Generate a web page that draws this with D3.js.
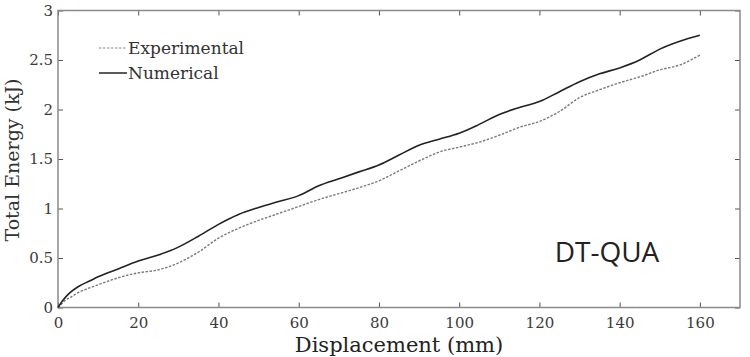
<!DOCTYPE html>
<html>
<head>
<meta charset="utf-8">
<script src="https://cdn.jsdelivr.net/npm/d3@7"></script>
<style>
  body { margin: 0; background: #fff; }
  svg { display: block; }
</style>
</head>
<body>
<div id="chart"></div>
<script>
// 변위 (mm)
const displacement = [0, 1, 2, 3, 5, 8, 10, 15, 20, 25, 30, 35, 40, 45, 50, 55, 60, 65, 70, 75, 80,
  85, 90, 95, 100, 105, 110, 115, 120, 125, 130, 135, 140, 145, 150, 155, 160];
// 수치해석 결과 (kJ)
const numerical = [0, 0.06, 0.11, 0.15, 0.21, 0.27, 0.31, 0.39, 0.47, 0.53, 0.61, 0.72, 0.84, 0.94, 1.01,
  1.07, 1.13, 1.23, 1.30, 1.37, 1.44, 1.54, 1.64, 1.70, 1.76, 1.85, 1.95, 2.02, 2.08, 2.18, 2.28,
  2.36, 2.42, 2.50, 2.61, 2.69, 2.75];
// 실험 결과 (kJ)
const experimental = [0, 0.04, 0.08, 0.10, 0.15, 0.20, 0.23, 0.30, 0.35, 0.38, 0.45, 0.56, 0.70, 0.80, 0.88,
  0.95, 1.02, 1.09, 1.15, 1.21, 1.28, 1.38, 1.48, 1.57, 1.62, 1.67, 1.74, 1.82, 1.88, 1.98, 2.12,
  2.20, 2.27, 2.33, 2.40, 2.45, 2.55];
const xTicks = [0, 20, 40, 60, 80, 100, 120, 140, 160];
const yTicks = [0, 0.5, 1, 1.5, 2, 2.5, 3];
const yTickLabels = ['0', '0.5', '1', '1.5', '2', '2.5', '3'];

const width = 750, height = 357;
const margin = { top: 10.5, right: 10, bottom: 49.5, left: 58 };
const serif = "'DejaVu Serif', 'Liberation Serif', serif";

const svg = d3.select('#chart').append('svg')
  .attr('width', width)
  .attr('height', height);

const x = d3.scaleLinear().domain([0, 170]).range([margin.left, width - margin.right]);
const y = d3.scaleLinear().domain([0, 3]).range([height - margin.bottom, margin.top]);

const frameColor = '#8a8a8a';
const tickLen = 5;

// 축 (안쪽 눈금)
const bottomAxis = d3.axisBottom(x).tickValues(xTicks).tickSize(-tickLen).tickPadding(10).tickFormat(d3.format('d'));
const topAxis = d3.axisTop(x).tickValues(xTicks).tickSize(-tickLen).tickFormat('');
const leftAxis = d3.axisLeft(y).tickValues(yTicks).tickSize(-tickLen).tickPadding(5)
  .tickFormat((d, i) => yTickLabels[i]);
const rightAxis = d3.axisRight(y).tickValues(yTicks).tickSize(-tickLen).tickFormat('');

function styleAxis(g) {
  g.select('.domain').remove();
  g.selectAll('.tick line').attr('stroke', '#555').attr('stroke-width', 1);
  g.selectAll('.tick text')
    .attr('fill', '#3a3a3a')
    .style('font-family', serif)
    .style('font-size', '15px');
}

svg.append('g').attr('transform', `translate(0,${y(0)})`).call(bottomAxis).call(styleAxis);
svg.append('g').attr('transform', `translate(0,${y(3)})`).call(topAxis).call(styleAxis);
svg.append('g').attr('transform', `translate(${x(0)},0)`).call(leftAxis).call(styleAxis);
svg.append('g').attr('transform', `translate(${x(170)},0)`).call(rightAxis).call(styleAxis);

// 테두리
svg.append('rect')
  .attr('x', x(0)).attr('y', y(3))
  .attr('width', x(170) - x(0)).attr('height', y(0) - y(3))
  .attr('fill', 'none').attr('stroke', frameColor).attr('stroke-width', 1.5);

// 곡선
const line = d3.line().x(d => x(d[0])).y(d => y(d[1])).curve(d3.curveMonotoneX);

svg.append('path')
  .datum(displacement.map((d, i) => [d, experimental[i]]))
  .attr('d', line)
  .attr('fill', 'none')
  .attr('stroke', '#7a7a7a')
  .attr('stroke-width', 1.4)
  .attr('stroke-dasharray', '2.5,1.5');

svg.append('path')
  .datum(displacement.map((d, i) => [d, numerical[i]]))
  .attr('d', line)
  .attr('fill', 'none')
  .attr('stroke', '#222')
  .attr('stroke-width', 1.6);

// 범례
const legend = [
  { label: 'Experimental', dash: '2.5,1.5', color: '#8a8a8a', width: 1.2, y: 48 },
  { label: 'Numerical', dash: null, color: '#333', width: 1.6, y: 73 }
];
legend.forEach(l => {
  svg.append('line')
    .attr('x1', 99).attr('x2', 127).attr('y1', l.y).attr('y2', l.y)
    .attr('stroke', l.color).attr('stroke-width', l.width)
    .attr('stroke-dasharray', l.dash);
  svg.append('text')
    .attr('x', 128).attr('y', l.y + 6)
    .attr('fill', '#333')
    .style('font-family', serif)
    .style('font-size', '17px')
    .text(l.label);
});

// 축 제목
svg.append('text')
  .attr('x', 399).attr('y', 352)
  .attr('text-anchor', 'middle')
  .attr('fill', '#222')
  .style('font-family', serif)
  .style('font-size', '21px')
  .text('Displacement (mm)');

svg.append('text')
  .attr('transform', `translate(19,160) rotate(-90)`)
  .attr('text-anchor', 'middle')
  .attr('fill', '#333')
  .style('font-family', serif)
  .style('font-size', '19px')
  .text('Total Energy (kJ)');

// 라벨
svg.append('text')
  .attr('x', 607).attr('y', 262)
  .attr('text-anchor', 'middle')
  .attr('fill', '#222')
  .style('font-family', "'Open Sans', Lato, sans-serif")
  .style('font-size', '28px')
  .text('DT-QUA');
</script>
</body>
</html>
